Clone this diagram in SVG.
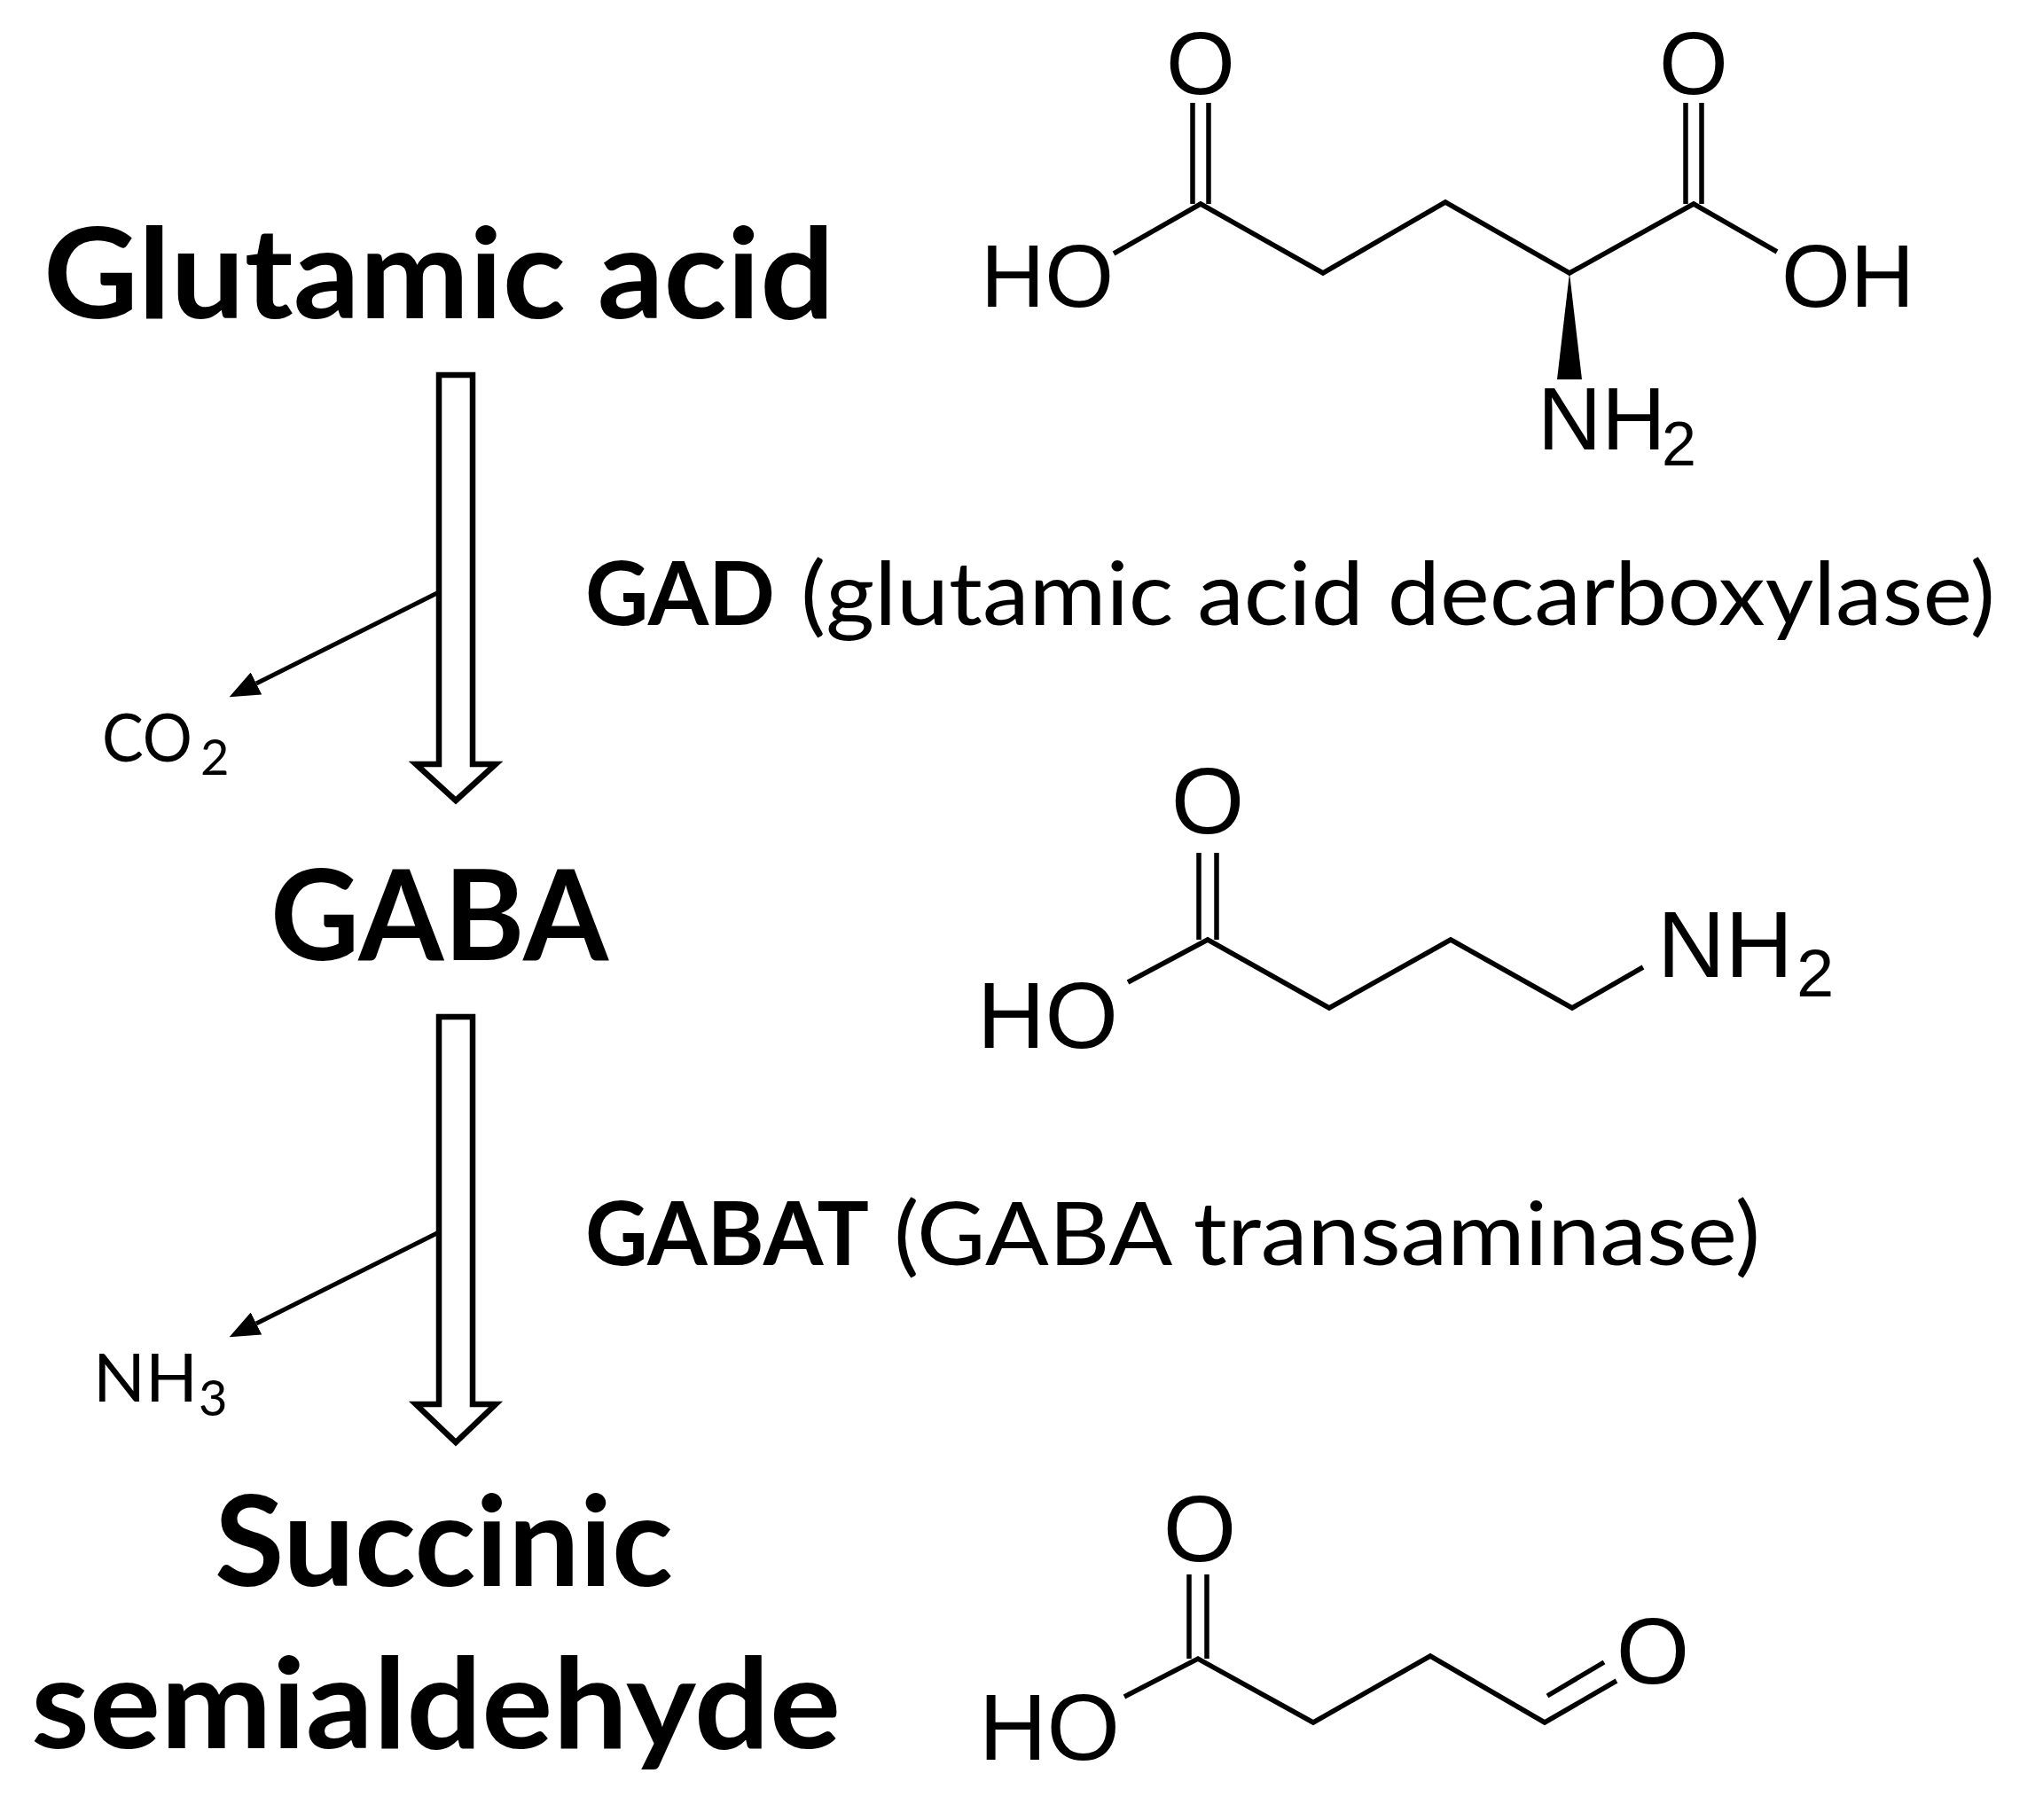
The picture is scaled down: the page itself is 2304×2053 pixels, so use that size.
<svg xmlns="http://www.w3.org/2000/svg" width="2304" height="2053" viewBox="0 0 2304 2053">
<defs>
<style>
.title{font-family:Lato,"Open Sans",sans-serif;font-weight:700;font-size:142px;fill:#000}
.enzb{font-family:Lato,"Open Sans",sans-serif;font-weight:700;font-size:99px;fill:#000}
.enz{font-family:Lato,"Open Sans",sans-serif;font-weight:400;font-size:99px;fill:#000}
.small{font-family:Lato,"Open Sans",sans-serif;font-weight:400;font-size:76px;fill:#000}
.sub{font-family:Lato,"Open Sans",sans-serif;font-weight:400;font-size:56px;fill:#000}
.atom{font-family:"Liberation Sans",Arial,sans-serif;font-size:106px;fill:#000}
.atomg{font-family:"Liberation Sans",Arial,sans-serif;font-size:100px;fill:#000}
.atoms{font-family:"Liberation Sans",Arial,sans-serif;font-size:76px;fill:#000}
.atomsg{font-family:"Liberation Sans",Arial,sans-serif;font-size:70px;fill:#000}
.bond{stroke:#000;stroke-width:5.5;fill:none;stroke-linecap:butt;stroke-linejoin:miter}
.big{fill:#fff;stroke:#000;stroke-width:6.5;stroke-linejoin:miter}
.branch{stroke:#000;stroke-width:5;fill:none}
</style>
<marker id="ah" viewBox="0 0 34 28" refX="0" refY="14" markerWidth="34" markerHeight="28" markerUnits="userSpaceOnUse" orient="auto">
<path d="M0,0 L34,14 L0,28 Z" fill="#000"/>
</marker>
</defs>
<rect width="2304" height="2053" fill="#fff"/>

<g id="connectors">
<path class="big" d="M495,423 H533 V862 H559 L514,903 L469,862 H495 Z"/>
<path class="big" d="M495,1147 H533 V1584 H559 L514,1627 L469,1584 H495 Z"/>
<line class="branch" x1="495" y1="668" x2="289" y2="771" marker-end="url(#ah)"/>
<line class="branch" x1="495" y1="1390" x2="289" y2="1493" marker-end="url(#ah)"/>
</g>

<g id="node-glutamic-acid">
<text class="title" x="49" y="359" textLength="892" lengthAdjust="spacingAndGlyphs">Glutamic acid</text>
</g>
<g id="node-gaba">
<text class="title" x="305" y="1083" textLength="381" lengthAdjust="spacingAndGlyphs">GABA</text>
</g>
<g id="node-succinic-semialdehyde">
<text class="title" x="242" y="1789" textLength="517" lengthAdjust="spacingAndGlyphs">Succinic</text>
<text class="title" x="35" y="1972" textLength="913" lengthAdjust="spacingAndGlyphs">semialdehyde</text>
</g>

<g id="enzyme-gad">
<text class="enzb" x="660" y="705" textLength="214" lengthAdjust="spacingAndGlyphs">GAD</text>
<text class="enz" x="903" y="705" textLength="1347" lengthAdjust="spacingAndGlyphs">(glutamic acid decarboxylase)</text>
</g>
<g id="enzyme-gabat">
<text class="enzb" x="660" y="1427" textLength="320" lengthAdjust="spacingAndGlyphs">GABAT</text>
<text class="enz" x="1008" y="1427" textLength="977" lengthAdjust="spacingAndGlyphs">(GABA transaminase)</text>
</g>

<g id="byproduct-co2">
<text class="small" x="115" y="859" textLength="102" lengthAdjust="spacingAndGlyphs">CO</text>
<text class="sub" x="226" y="874">2</text>
</g>
<g id="byproduct-nh3">
<text class="small" x="105" y="1581" textLength="118" lengthAdjust="spacingAndGlyphs">NH</text>
<text class="sub" x="224" y="1597">3</text>
</g>

<g id="structure-glutamic-acid">
<polyline class="bond" points="1256,286 1354,230 1492,308 1630,228 1770,308 1910,230 2004,284"/>
<line class="bond" x1="1345" y1="116" x2="1345" y2="230"/>
<line class="bond" x1="1363" y1="116" x2="1363" y2="230"/>
<line class="bond" x1="1901" y1="116" x2="1901" y2="230"/>
<line class="bond" x1="1919" y1="116" x2="1919" y2="230"/>
<polygon points="1770,308 1756,428 1784,428" fill="#000"/>
<text class="atomg" x="1354" y="106" text-anchor="middle">O</text>
<text class="atomg" x="1910" y="106" text-anchor="middle">O</text>
<text class="atomg" x="1106" y="346">HO</text>
<text class="atomg" x="2009" y="346">OH</text>
<text class="atomg" x="1734" y="507">NH</text>
<text class="atomsg" x="1874" y="525">2</text>
</g>

<g id="structure-gaba">
<polyline class="bond" points="1272,1108 1362,1060 1499,1137 1636,1060 1773,1137 1853,1091"/>
<line class="bond" x1="1352" y1="962" x2="1352" y2="1060"/>
<line class="bond" x1="1372" y1="962" x2="1372" y2="1060"/>
<text class="atom" x="1362" y="940" text-anchor="middle">O</text>
<text class="atom" x="1102" y="1182">HO</text>
<text class="atom" x="1869" y="1102">NH</text>
<text class="atoms" x="2026" y="1124">2</text>
</g>

<g id="structure-succinic-semialdehyde">
<polyline class="bond" points="1268,1914 1351,1871 1481,1943 1613,1868 1742,1943 1823,1896"/>
<line class="bond" x1="1341" y1="1776" x2="1341" y2="1871"/>
<line class="bond" x1="1361" y1="1776" x2="1361" y2="1871"/>
<line class="bond" x1="1745" y1="1913" x2="1809" y2="1875"/>
<text class="atom" x="1353" y="1761" text-anchor="middle">O</text>
<text class="atom" x="1864" y="1899" text-anchor="middle">O</text>
<text class="atom" x="1104" y="1985">HO</text>
</g>
</svg>
